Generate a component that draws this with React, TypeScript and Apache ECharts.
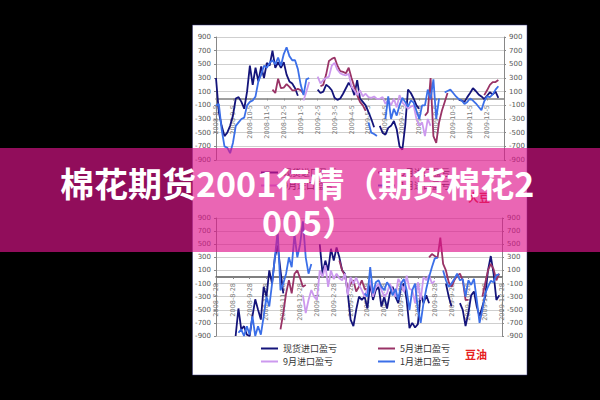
import React, { useEffect, useRef } from "react";
import * as echarts from "echarts";

const _ = null;

const headlineLines = ["棉花期货2001行情（期货棉花2", "005）"];
const seriesNames = ["现货进口盈亏", "5月进口盈亏", "9月进口盈亏", "1月进口盈亏"];
const seriesColors = ["#14147a", "#993366", "#cc99ee", "#3b6fe8"];
const yTicks = [-900, -700, -500, -300, -100, 100, 300, 500, 700, 900];

const topMonths = [
  "2008-8-5", "2008-9-5", "2008-10-5", "2008-11-5", "2008-12-5", "2009-1-5",
  "2009-2-5", "2009-3-5", "2009-4-5", "2009-5-5", "2009-6-5", "2009-7-5",
  "2009-8-5", "2009-9-5", "2009-10-5", "2009-11-5", "2009-12-5",
];
const bottomMonths = [
  "2008-7-28", "2008-8-28", "2008-9-28", "2008-10-28", "2008-11-28", "2008-12-28",
  "2009-1-28", "2009-2-28", "2009-3-28", "2009-4-28", "2009-5-28", "2009-6-28",
  "2009-7-28", "2009-8-28", "2009-9-28", "2009-10-28", "2009-11-28", "2009-12-28",
];

const topSpot = [
  300, -200, -400, -550, -500, -400, -250, 0, 20, -50,
  -150, 100, 480, 200, 450, 250, 470, 300, 520, 480,
  700, 450, 530, 450, 530, 350, 250, 220, 150, 40,
  _, _, _, _, _, _, 130, 80, 100, 200,
  170, 120, 10, -20, 0, 70, 150, 230, 170, 50,
  270, 0, -50, -100, -200, -300, -420, _, -400, -500,
  -530, -430, -400, -330, -450, -700, -750, -400, 130, 80,
  0, -100, -150, _, _, _, _, _, _, _,
  _, _, _, _, _, _, -20, -30, -50, 20,
  80, 150, 110, 60, 30, -10, 40, 90, 60, 100,
  10, _, _,
];
const topMay = [
  _, _, _, _, _, _, _, _, _, _,
  _, _, _, _, _, _, _, _, _, _,
  130, 80, 290, 150, 160, 210, 170, 120, 120, 140,
  120, 70, _, _, _, _, _, 180, 200, 350,
  550, 580, 600, 480, 400, 390, 370, 450, 300, 170,
  50, -50, -100, -180, _, _, _, _, _, _,
  _, _, _, _, _, _, _, _, _, _,
  _, _, _, _, -250, -200, 300, -550, -650, -350,
  -180, -50, 80, _, _, _, _, _, _, _,
  _, _, _, _, _, 50, 120, 200, 240, 240,
  270, _, _,
];
const topSep = [
  _, _, _, _, _, _, _, _, _, _,
  _, _, _, _, _, _, _, _, _, _,
  _, _, _, _, _, _, _, _, _, _,
  _, -30, 100, 240, _, _, 320, 220, 270, 300,
  320, 480, 520, 420, 370, 350, 340, 360, 170, 120,
  50, 120, 30, 70, 20, 10, 30, -5, -5, 20,
  -80, -20, -100, 0, -130, 50, -60, -100, -150, -120,
  -100, -300, -400, -350, -550, -300, -400, _, _, _,
  _, _, _, _, _, _, _, _, _, _,
  _, _, _, _, _, _, _, _, _, _,
  _, _, _,
];
const topJan = [
  -100, -80, -450, -700, -720, -800, -650, -400, -350, -300,
  -280, -100, -50, -30, 30, 250, 350, 480, 450, 520,
  560, 500, 600, 480, 650, 750, 620, 560, 560, 430,
  200, 50, 280, 300, _, _, _, _, _, _,
  _, _, _, _, _, _, _, _, _, _,
  _, _, _, _, -350, -500, -520, -550, _, _,
  -300, 30, -300, -150, -250, -100, 10, -50, -120, -30,
  -60, -180, -300, -100, -100, 130, -10, 280, -300, 0,
  _, 90, 110, 130, 80, 30, -10, -30, -80, -50,
  0, -30, -70, -120, -170, -40, 30, 20, 60, 130,
  180, _, _,
];

const bottomSpot = [
  _, _, _, _, _, _, _, -900, -480, -800,
  -750, -880, -900, -600, -340, -500, -650, -150, -300, 100,
  -100, 300, 480, 100, -250, _, _, _, _, _,
  _, _, _, _, _, _, _, 500, 50, 250,
  100, 430, 250, 450, 300, 100, 50, -250, -650, -750,
  -500, -300, -350, -300, -480, -100, -350, -200, -150, -450,
  -300, -480, -250, -150, -300, -400, -150, -100, -350, -780,
  -700, -770, -720, -250, -400, -280, -400, _, _, _,
  _, _, -100, -300, -450, _, _, -400, -500, -750,
  -550, -280, -220, -450, -600, -450, -300, 100, 320, 50,
  -350, -280, _,
];
const bottomMay = [
  _, _, _, _, _, _, _, _, _, _,
  _, _, _, _, _, _, _, _, _, _,
  _, _, _, -800, -550, -250, -50, -250, 50, 100,
  -20, -150, -120, _, _, _, _, _, _, _,
  _, _, _, _, 250, 100, 20, -200, -100, -50,
  -220, -150, -50, -180, -200, _, _, _, _, _,
  _, _, _, _, _, _, _, _, _, _,
  _, _, _, _, _, _, 300, 350, 320, 290,
  600, 200, 100, -80, -150, -50, 20, 50, -50, -350,
  -350, _, _, _, _, -300, -100, 100, 200, 120,
  -50, 50, _,
];
const bottomSep = [
  _, _, _, _, _, _, _, _, _, _,
  _, _, _, _, _, _, _, _, _, _,
  _, _, _, _, _, _, _, _, _, _,
  _, -280, -550, -350, -200, -300, -350, 100, 0, 180,
  -150, 100, -30, 50, -20, -50, 50, -280, 0, -100,
  -10, -120, -200, -300, -180, -50, -300, -150, -100, -200,
  -300, -250, -100, -200, -300, -30, -100, -230, 20, -180,
  -200, -400, -80, -350, 0, -50, 30, -100, -60, _,
  _, _, _, _, _, _, _, _, _, _,
  _, _, _, _, _, _, _, _, _, _,
  _, _, _,
];
const bottomJan = [
  _, _, _, _, _, _, _, _, -850, -800,
  -900, -750, -880, -600, -900, -750, -880, -600, -300, -450,
  -100, 300, 700, -200, -100, 50, 300, 150, 650, 300,
  500, 850, 300, 50, 200, _, _, _, _, _,
  _, _, _, _, _, _, _, _, _, _,
  _, _, _, -250, -300, 150, -250, -80, -50, -150,
  -200, -80, -150, -280, -180, -350, -100, -30, -200, -500,
  -200, -100, -500, -700, -400, -180, 0, 150, 280, 300,
  _, 100, -50, -150, -100, -30, 50, -50, -30, -300,
  -50, -120, -30, -350, -700, -500, -250, -150, -60, -80,
  30, 40, _,
];

const topValues = [topSpot, topMay, topSep, topJan];
const bottomValues = [bottomSpot, bottomMay, bottomSep, bottomJan];

// six points per month, only the first one carries the label
const toCategories = (months: string[]) => {
  const list: string[] = [];
  months.forEach((m) => {
    list.push(m);
    for (let i = 0; i < 5; i++) list.push("");
  });
  return list.slice(0, 103).concat(Array(Math.max(0, 103 - list.length)).fill(""));
};

// labels sit just under the zero line, hence the negative margin
const xAxisFor = (gridIndex: number, months: string[], zeroColor: string, labelMargin: number) => ({
  type: "category",
  gridIndex,
  data: toCategories(months),
  boundaryGap: false,
  axisLine: { onZero: true, lineStyle: { color: zeroColor, width: 1.5 } },
  axisTick: { interval: 5, length: 2, lineStyle: { color: "#888" } },
  axisLabel: {
    interval: 5,
    rotate: 90,
    margin: labelMargin,
    fontSize: 6.5,
    color: "#777",
    fontFamily: "DejaVu Sans",
    showMinLabel: true,
    showMaxLabel: true,
  },
  splitLine: { show: false },
});

const yAxisFor = (gridIndex: number, position: string, gridLines: boolean) => ({
  type: "value",
  gridIndex,
  position,
  min: -900,
  max: 900,
  axisLine: { show: true, onZero: false, lineStyle: { color: "#888" } },
  axisTick: { show: true, length: 2, customValues: yTicks, lineStyle: { color: "#888" } },
  axisLabel: {
    customValues: yTicks,
    margin: 5,
    fontSize: 7,
    color: "#555",
    fontFamily: "DejaVu Sans",
  },
  splitLine: { show: gridLines, lineStyle: { color: "#cfcfcf", width: 1 } },
});

const legendFor = (name: string, left: number, top: number) => ({
  data: [name],
  left,
  top,
  icon: "rect",
  itemWidth: 17,
  itemHeight: 2,
  itemGap: 0,
  padding: 0,
  selectedMode: false,
  textStyle: {
    fontSize: 9,
    color: "#333",
    fontFamily: "Noto Sans CJK SC",
  },
});

const seriesFor = (values: (number | null)[][], axisIndex: number) =>
  values.map((data, i) => ({
    name: seriesNames[i],
    type: "line",
    xAxisIndex: axisIndex,
    yAxisIndex: axisIndex * 2,
    data,
    showSymbol: false,
    connectNulls: false,
    lineStyle: { width: 1.8, color: seriesColors[i] },
    itemStyle: { color: seriesColors[i] },
  }));

const headlineStyle = {
  fontSize: 34,
  fontWeight: "bold",
  fill: "#fff",
  align: "left",
  verticalAlign: "middle",
  fontFamily: "Noto Sans CJK SC",
};

const App = () => {
  const chartRef = useRef<HTMLDivElement>(null);

  useEffect(() => {
    const chart = echarts.init(chartRef.current, null, { renderer: "svg" });

    chart.setOption({
      animation: false,
      backgroundColor: "#000",
      grid: [
        { left: 216, top: 37, width: 288, height: 123 },
        { left: 216, top: 218, width: 286, height: 118 },
      ],
      xAxis: [
        xAxisFor(0, topMonths, "#808080", -55),
        xAxisFor(1, bottomMonths, "#555", -53),
      ],
      yAxis: [
        yAxisFor(0, "left", true),
        yAxisFor(0, "right", false),
        yAxisFor(1, "left", true),
        yAxisFor(1, "right", false),
      ],
      legend: [
        legendFor(seriesNames[0], 261, 168),
        legendFor(seriesNames[1], 378, 168),
        legendFor(seriesNames[2], 261, 181),
        legendFor(seriesNames[3], 378, 181),
        legendFor(seriesNames[0], 261, 344),
        legendFor(seriesNames[1], 378, 344),
        legendFor(seriesNames[2], 261, 357),
        legendFor(seriesNames[3], 378, 357),
      ],
      series: [...seriesFor(topValues, 0), ...seriesFor(bottomValues, 1)],
      graphic: [
        {
          type: "rect",
          z: -1,
          silent: true,
          shape: { x: 192.5, y: 25, width: 334.5, height: 350 },
          style: { fill: "#fff", stroke: "#3a3a80", lineWidth: 0.5 },
        },
        {
          type: "text",
          z: 6,
          x: 468,
          y: 191,
          style: {
            text: "大豆",
            fontSize: 11,
            fontWeight: "bold",
            fill: "#e62020",
            fontFamily: "Noto Sans CJK SC",
          },
        },
        {
          type: "text",
          z: 6,
          x: 465,
          y: 348,
          style: {
            text: "豆油",
            fontSize: 11,
            fontWeight: "bold",
            fill: "#e62020",
            fontFamily: "Noto Sans CJK SC",
          },
        },
        {
          type: "rect",
          z: 50,
          silent: true,
          shape: { x: 0, y: 148, width: 600, height: 104 },
          style: { fill: "rgba(222, 20, 140, 0.65)" },
        },
        {
          type: "text",
          z: 51,
          x: 60,
          y: 182,
          style: { ...headlineStyle, text: headlineLines[0] },
        },
        {
          type: "text",
          z: 51,
          x: 262,
          y: 221,
          style: { ...headlineStyle, text: headlineLines[1] },
        },
      ],
    });

    return () => {
      chart.dispose();
    };
  }, []);

  return (
    <div
      ref={chartRef}
      style={{ position: "fixed", left: 0, top: 0, width: 600, height: 400 }}
    />
  );
};

export default App;
